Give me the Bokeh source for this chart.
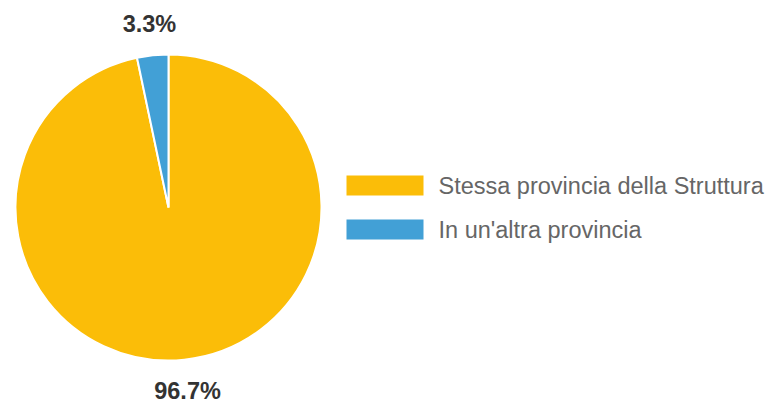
import math
from bokeh.plotting import figure
from bokeh.models import Range1d, ColumnDataSource
from bokeh.core.properties import value
from bokeh.embed import file_html
from bokeh.resources import INLINE

categories = ["Stessa provincia della Struttura", "In un'altra provincia"]
percentages = [96.7, 3.3]
colors = ["#FBBD08", "#42A0D6"]

W, H = 767, 405
p = figure(width=W, height=H, output_backend="svg", toolbar_location=None,
           x_range=Range1d(0, W), y_range=Range1d(0, H), min_border=0)
p.axis.visible = False
p.grid.visible = False
p.outline_line_color = None
p.background_fill_color = "white"
p.border_fill_color = "white"

cx, cy, r = 168, H - 207, 153
label_r = 184

total = sum(percentages)
starts, ends, lx, ly, labels = [], [], [], [], []
ang = math.pi / 2
for v in percentages:
    sweep = 2 * math.pi * v / total
    a0 = ang - sweep  # clockwise from top
    starts.append(a0)
    ends.append(ang)
    mid = ang - sweep / 2
    lx.append(cx + label_r * math.cos(mid))
    ly.append(cy + label_r * math.sin(mid))
    labels.append(f"{v:.1f}%")
    ang = a0

src = ColumnDataSource(dict(start=starts, end=ends, color=colors, lx=lx, ly=ly, lab=labels))
p.wedge(x=cx, y=cy, radius=r, start_angle="start", end_angle="end", direction="anticlock",
        fill_color="color", line_color="white", line_width=2, source=src)
p.text(x="lx", y="ly", text="lab", source=src, text_align="center", text_baseline="middle",
       text_font=value("Liberation Sans"), text_font_style="bold", text_font_size="23.5px",
       text_color="#333333")

# legend
lg_x0 = 346
lg_y0 = H - 185
step = 44
box_y = [lg_y0 - i * step for i in range(len(categories))]
lsrc = ColumnDataSource(dict(y=box_y, color=colors, name=categories))
p.rect(x=lg_x0 + 38.5, y="y", width=77, height=20, fill_color="color", line_color=None, source=lsrc)
p.text(x=lg_x0 + 92, y="y", text="name", source=lsrc, text_align="left", text_baseline="middle",
       text_font=value("Liberation Sans"), text_font_size="23.5px", text_color="#666666")

open("out.html", "w").write(file_html(p, INLINE))
